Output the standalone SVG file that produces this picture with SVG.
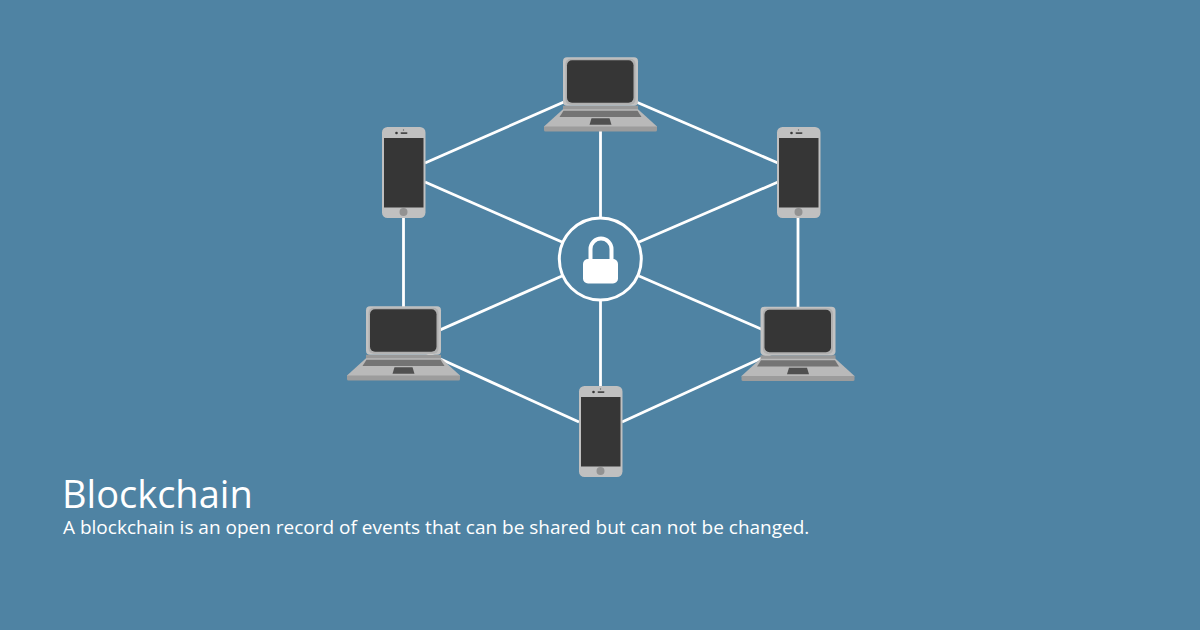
<svg xmlns="http://www.w3.org/2000/svg" width="1200" height="630" viewBox="0 0 1200 630">
<style>
.t{font-family:"Open Sans","Noto Sans",sans-serif;fill:#fff}
.c line{stroke:#fff;stroke-width:2.8;stroke-linecap:butt}
</style>
<defs>
<g id="laptop">
<path d="M-37.500 48.700H37.500V53H-37.500Z" fill="#999"/>
<rect x="-37.500" y="0.300" width="75" height="48.500" rx="4" fill="#c2c2c2"/>
<rect x="-35" y="1.800" width="70" height="46" rx="5" fill="#b0b0b0"/>
<rect x="-33.500" y="3.300" width="66.500" height="42.500" rx="5" fill="#363636"/>
<path d="M-37.500 52.300L-56.500 69.500V70H56.500V69.500L37.500 52.300Z" fill="#b9b9b9"/>
<path d="M-37 53.700H37L41 60H-41Z" fill="#747474"/>
<path d="M-9 61.300H9L11 67.700H-11Z" fill="#505050"/>
<path d="M-56.500 69.500H56.500V73a1.500 1.500 0 0 1-1.500 1.500H-55a1.500 1.500 0 0 1-1.500-1.500Z" fill="#9c9c9c"/>
</g>
<g id="phone">
<rect x="0" y="0" width="43.500" height="91" rx="5.500" fill="#c0c0c0"/>
<rect x="2" y="11" width="39.500" height="69.500" fill="#363636"/>
<circle cx="21.500" cy="85" r="4" fill="#929292"/>
<rect x="18.500" y="5.200" width="7" height="1.700" rx="0.800" fill="#484848"/>
<circle cx="14.500" cy="6" r="1.300" fill="#363636"/>
<circle cx="21.500" cy="3" r="0.700" fill="#666"/>
</g>
</defs>
<rect id="background" width="1200" height="630" fill="#4f83a3"/>
<g id="connectors" class="c">
<line x1="425" y1="163" x2="573" y2="98"/>
<line x1="627" y1="98" x2="778" y2="163"/>
<line x1="425" y1="182" x2="562" y2="242"/>
<line x1="778" y1="182" x2="639" y2="242"/>
<line x1="600.500" y1="125" x2="600.500" y2="217"/>
<line x1="403.500" y1="218" x2="403.500" y2="310"/>
<line x1="798" y1="218" x2="798" y2="310"/>
<line x1="430" y1="334.400" x2="562" y2="276"/>
<line x1="771" y1="333.300" x2="639" y2="276"/>
<line x1="425" y1="352" x2="579" y2="422"/>
<line x1="622" y1="422" x2="775" y2="352"/>
<line x1="600.500" y1="301" x2="600.500" y2="390"/>
</g>
<g id="laptop-top"><use href="#laptop" x="600.500" y="57"/></g>
<g id="laptop-left"><use href="#laptop" x="403.500" y="306"/></g>
<g id="laptop-right"><use href="#laptop" x="798" y="306.500"/></g>
<g id="phone-left"><use href="#phone" x="382" y="127"/></g>
<g id="phone-right"><use href="#phone" x="777" y="127"/></g>
<g id="phone-bottom"><use href="#phone" x="579" y="386"/></g>
<g id="lock">
<circle cx="600.300" cy="259" r="41" fill="none" stroke="#fff" stroke-width="3"/>
<path d="M590.500 262V249a10.500 10.500 0 0 1 21 0V262" fill="none" stroke="#fff" stroke-width="4"/>
<rect x="583" y="259" width="35" height="24.500" rx="5" fill="#fff"/>
</g>
<g id="caption">
<text class="t" x="62" y="508" font-size="38">Blockchain</text>
<text class="t" x="63" y="534" font-size="19">A blockchain is an open record of events that can be shared but can not be changed.</text>
</g>
</svg>
